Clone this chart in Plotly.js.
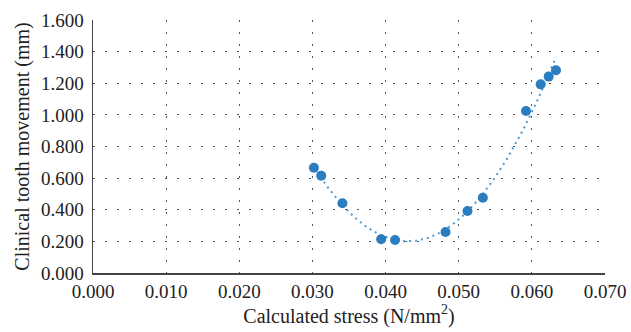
<!DOCTYPE html>
<html>
<head>
<meta charset="utf-8">
<script src="https://cdn.plot.ly/plotly-3.0.1.min.js"></script>
<style>html,body{margin:0;padding:0;background:#fff;}#chart{width:631px;height:332px;}</style>
</head>
<body>
<div id="chart"></div>
<script>
// Data
var stress = [0.0302, 0.0312, 0.0341, 0.0394, 0.0413, 0.0482, 0.0512, 0.0533, 0.0592, 0.0612, 0.0623, 0.0633];
var movement = [0.666, 0.615, 0.441, 0.213, 0.209, 0.259, 0.392, 0.476, 1.025, 1.193, 1.242, 1.282];
var xTickVals = [0, 0.01, 0.02, 0.03, 0.04, 0.05, 0.06, 0.07];
var xTickText = ["0.000", "0.010", "0.020", "0.030", "0.040", "0.050", "0.060", "0.070"];
var yTickVals = [0, 0.2, 0.4, 0.6, 0.8, 1.0, 1.2, 1.4, 1.6];
var yTickText = ["0.000", "0.200", "0.400", "0.600", "0.800", "1.000", "1.200", "1.400", "1.600"];

// Quadratic least-squares trendline computed from the data
function quadFit(xs, ys) {
  var n = xs.length, S = [0,0,0,0,0], T = [0,0,0];
  for (var i = 0; i < n; i++) {
    var x = xs[i], y = ys[i], p = 1;
    for (var k = 0; k < 5; k++) { S[k] += p; if (k < 3) T[k] += p * y; p *= x; }
  }
  var A = [[S[0],S[1],S[2],T[0]],[S[1],S[2],S[3],T[1]],[S[2],S[3],S[4],T[2]]];
  for (var c = 0; c < 3; c++) {
    var piv = c;
    for (var r = c+1; r < 3; r++) if (Math.abs(A[r][c]) > Math.abs(A[piv][c])) piv = r;
    var tmp = A[c]; A[c] = A[piv]; A[piv] = tmp;
    for (var r2 = 0; r2 < 3; r2++) {
      if (r2 === c) continue;
      var f = A[r2][c] / A[c][c];
      for (var k2 = c; k2 < 4; k2++) A[r2][k2] -= f * A[c][k2];
    }
  }
  return [A[0][3]/A[0][0], A[1][3]/A[1][1], A[2][3]/A[2][2]];
}
var coef = quadFit(stress, movement);
var xmin = Math.min.apply(null, stress), xmax = Math.max.apply(null, stress);
var tx = [], ty = [];
for (var i = 0; i <= 120; i++) {
  var x = xmin + (xmax - xmin) * i / 120;
  tx.push(x); ty.push(coef[0] + coef[1]*x + coef[2]*x*x);
}

var blue = "#2a7dc0";
var traces = [
  {x: tx, y: ty, mode: "lines", line: {color: "#4a9ad6", width: 2, dash: "2px,4px"}, hoverinfo: "skip"},
  {x: stress, y: movement, mode: "markers", marker: {color: blue, size: 10}}
];

var gridStyle = {gridcolor: "#555555", gridwidth: 1.2, griddash: "2px,10px"};
var layout = {
  width: 631, height: 332,
  margin: {l: 93, r: 26, t: 20, b: 59},
  paper_bgcolor: "#ffffff", plot_bgcolor: "#ffffff",
  showlegend: false,
  font: {family: "Liberation Serif, Times New Roman, serif", size: 19, color: "#222222"},
  xaxis: Object.assign({
    range: [0, 0.07], tickvals: xTickVals, ticktext: xTickText,
    showgrid: true, zeroline: false, showline: true, linecolor: "#444444", linewidth: 1.5,
    ticks: "", tickfont: {size: 19, color: "#222222"}, ticklabelstandoff: 1,
    title: {text: "Calculated stress (N/mm<sup>2</sup>)", font: {size: 20, color: "#222222"}, standoff: 2}
  }, gridStyle),
  yaxis: Object.assign({
    range: [0, 1.6], tickvals: yTickVals, ticktext: yTickText,
    showgrid: true, zeroline: false, showline: true, linecolor: "#444444", linewidth: 1.5,
    ticks: "", tickfont: {size: 19, color: "#222222"}, ticklabelstandoff: 4,
    title: {text: "Clinical tooth movement (mm)", font: {size: 20, color: "#222222"}, standoff: 6}
  }, gridStyle)
};

Plotly.newPlot("chart", traces, layout, {displayModeBar: false, staticPlot: true});
</script>
</body>
</html>
